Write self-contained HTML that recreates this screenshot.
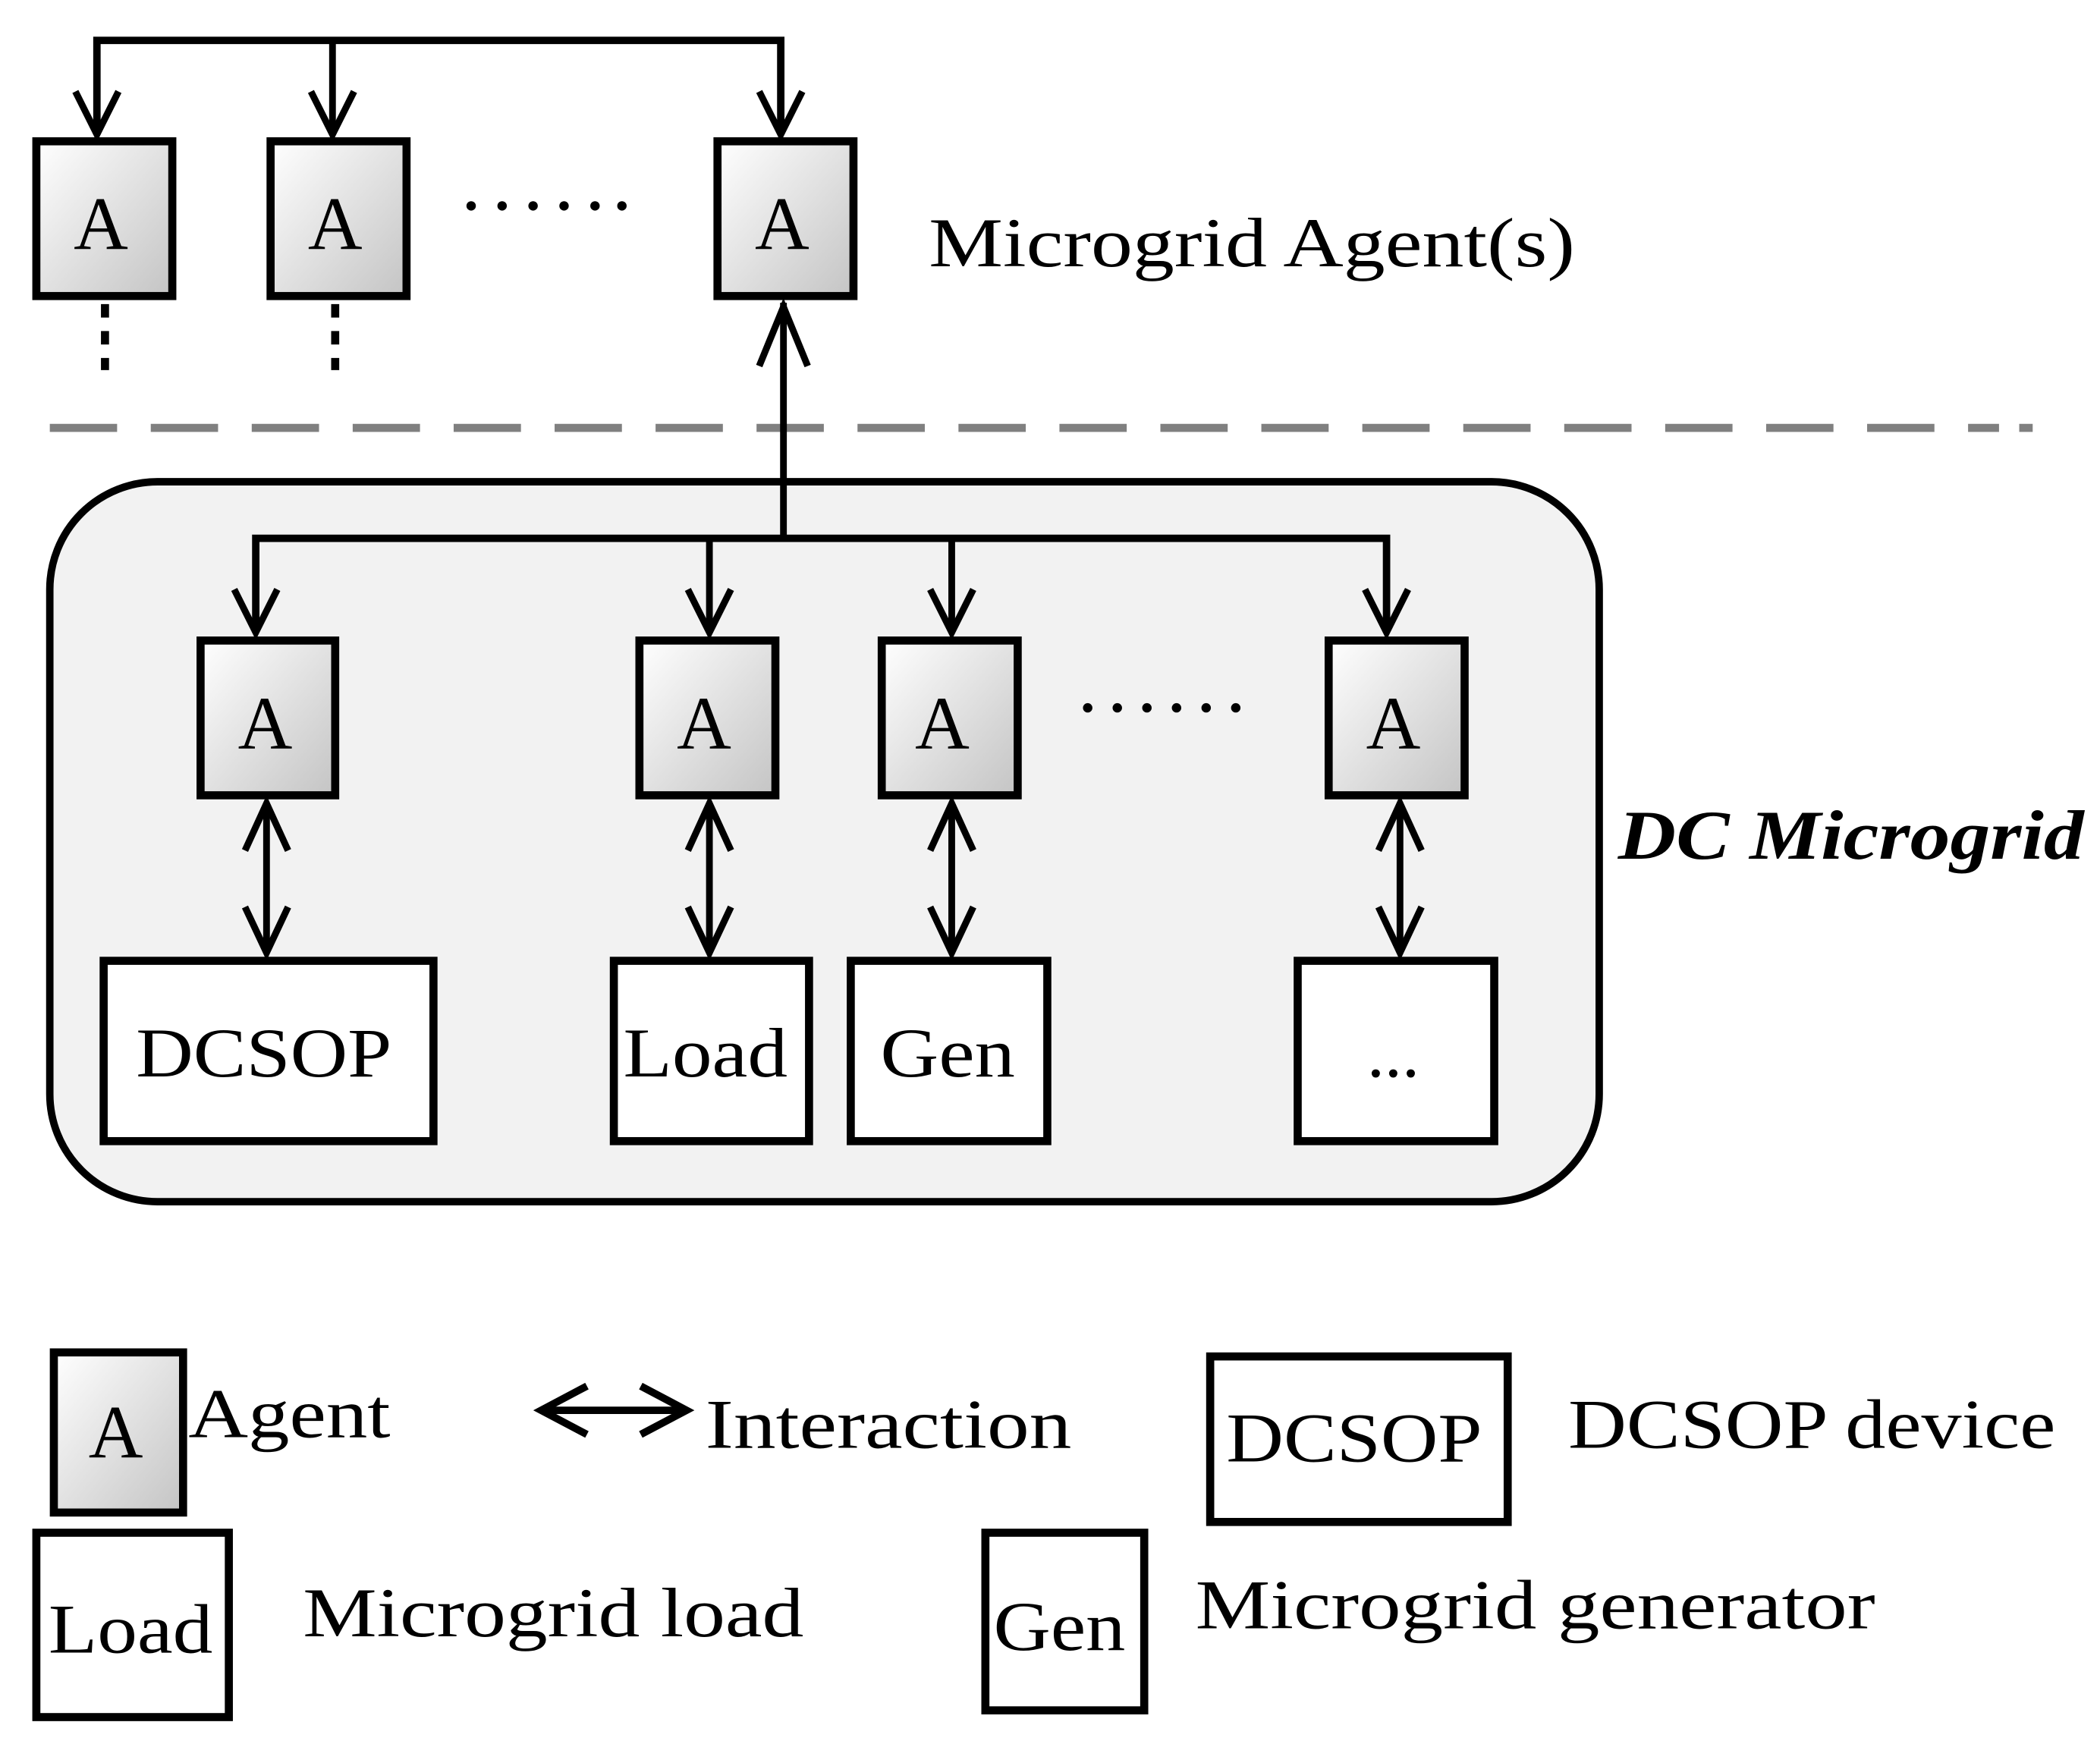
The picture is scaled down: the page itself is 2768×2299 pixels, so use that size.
<!DOCTYPE html>
<html><head><meta charset="utf-8"><style>html,body{margin:0;padding:0;background:#fff}svg{display:block}</style></head><body>
<svg width="2768" height="2299" viewBox="0 0 1560 1296" preserveAspectRatio="none" xmlns="http://www.w3.org/2000/svg" font-family="'Liberation Serif', serif">
<defs>
<linearGradient id="g" x1="0" y1="0" x2="1" y2="1"><stop offset="0" stop-color="#ffffff"/><stop offset="1" stop-color="#c4c4c4"/></linearGradient>
</defs>
<g stroke="#000" fill="none" stroke-width="5">
<polyline points="72,100 72,30 580,30 580,100" stroke-width="5.5"/>
<line x1="247" y1="30" x2="247" y2="100"/>
<polyline points="56,68 72,100 88,68"/>
<polyline points="231,68 247,100 263,68"/>
<polyline points="564,68 580,100 596,68"/>
</g>
<rect x="37" y="358" width="1151" height="535" rx="80" fill="#f2f2f2" stroke="#000" stroke-width="5.5"/>
<line x1="37" y1="318" x2="1485" y2="318" stroke="#808080" stroke-width="6" stroke-dasharray="50,25"/>
<line x1="1500" y1="318" x2="1510" y2="318" stroke="#808080" stroke-width="6"/>
<g stroke="#000" fill="none" stroke-width="5">
<line x1="582" y1="225" x2="582" y2="400"/>
<polyline points="564,272 582,228 600,272"/>
<polyline points="190,470 190,400 1030,400 1030,470" stroke-width="5.5"/>
<line x1="527" y1="400" x2="527" y2="470"/><line x1="707" y1="400" x2="707" y2="470"/>
<polyline points="174,438 190,470 206,438"/><polyline points="511,438 527,470 543,438"/>
<polyline points="691,438 707,470 723,438"/><polyline points="1014,438 1030,470 1046,438"/>
<line x1="198" y1="597" x2="198" y2="708"/><polyline points="182,632 198,597 214,632"/><polyline points="182,674 198,708 214,674"/>
<line x1="527" y1="597" x2="527" y2="708"/><polyline points="511,632 527,597 543,632"/><polyline points="511,674 527,708 543,674"/>
<line x1="707" y1="597" x2="707" y2="708"/><polyline points="691,632 707,597 723,632"/><polyline points="691,674 707,708 723,674"/>
<line x1="1040" y1="597" x2="1040" y2="708"/><polyline points="1024,632 1040,597 1056,632"/><polyline points="1024,674 1040,708 1056,674"/>
<line x1="78" y1="226" x2="78" y2="275" stroke-dasharray="10,10" stroke-width="6"/>
<line x1="249" y1="226" x2="249" y2="275" stroke-dasharray="10,10" stroke-width="6"/>
<line x1="404" y1="1048" x2="508" y2="1048" stroke-width="5.5"/>
<polyline points="436,1030 402,1048 436,1066" stroke-width="5.5"/><polyline points="476,1030 510,1048 476,1066" stroke-width="5.5"/>
</g>
<g fill="#000">
<circle cx="350" cy="153" r="3.5"/><circle cx="373" cy="153" r="3.5"/><circle cx="396" cy="153" r="3.5"/><circle cx="419" cy="153" r="3.5"/><circle cx="442" cy="153" r="3.5"/><circle cx="462" cy="153" r="3.5"/>
<circle cx="808" cy="526" r="3.5"/><circle cx="830" cy="526" r="3.5"/><circle cx="852" cy="526" r="3.5"/><circle cx="874" cy="526" r="3.5"/><circle cx="896" cy="526" r="3.5"/><circle cx="918" cy="526" r="3.5"/>
</g>
<g fill="url(#g)" stroke="#000" stroke-width="6">
<rect x="27" y="105" width="101" height="115"/>
<rect x="201" y="105" width="101" height="115"/>
<rect x="533" y="105" width="101" height="115"/>
<rect x="149" y="476" width="100" height="115"/>
<rect x="475" y="476" width="101" height="115"/>
<rect x="655" y="476" width="101" height="115"/>
<rect x="987" y="476" width="101" height="115"/>
<rect x="40" y="1005" width="96" height="119"/>
</g>
<g fill="#fff" stroke="#000" stroke-width="6">
<rect x="77" y="714" width="245" height="134"/>
<rect x="456" y="714" width="145" height="134"/>
<rect x="632" y="714" width="146" height="134"/>
<rect x="964" y="714" width="146" height="134"/>
<rect x="899" y="1008" width="221" height="123"/>
<rect x="27" y="1139" width="143" height="137"/>
<rect x="732" y="1139" width="118" height="132"/>
</g>
<g font-size="56" fill="#000" text-anchor="middle">
<text x="75" y="185">A</text><text x="249" y="185">A</text><text x="581" y="185">A</text>
<text x="197" y="556">A</text><text x="523" y="556">A</text><text x="700" y="556">A</text><text x="1035" y="556">A</text>
<text x="86" y="1083">A</text>
</g>
<g font-size="52" fill="#000" text-anchor="middle">
<text x="196" y="800" textLength="190" lengthAdjust="spacingAndGlyphs">DCSOP</text>
<text x="524" y="800" textLength="122" lengthAdjust="spacingAndGlyphs">Load</text>
<text x="704" y="800" textLength="100" lengthAdjust="spacingAndGlyphs">Gen</text>
<text x="1035" y="800">...</text>
<text x="1006" y="1086" textLength="190" lengthAdjust="spacingAndGlyphs">DCSOP</text>
<text x="97" y="1228" textLength="122" lengthAdjust="spacingAndGlyphs">Load</text>
<text x="787" y="1226" textLength="98" lengthAdjust="spacingAndGlyphs">Gen</text>
</g>
<g font-size="52" fill="#000">
<text x="690" y="198" textLength="480" lengthAdjust="spacingAndGlyphs">Microgrid Agent(s)</text>
<text x="1202" y="638" font-style="italic" font-weight="bold" textLength="346" lengthAdjust="spacingAndGlyphs">DC Microgrid</text>
<text x="140" y="1068" textLength="150" lengthAdjust="spacingAndGlyphs">Agent</text>
<text x="524" y="1076" textLength="272" lengthAdjust="spacingAndGlyphs">Interaction</text>
<text x="1165" y="1076" textLength="362" lengthAdjust="spacingAndGlyphs">DCSOP device</text>
<text x="225" y="1216" textLength="372" lengthAdjust="spacingAndGlyphs">Microgrid load</text>
<text x="888" y="1210" textLength="505" lengthAdjust="spacingAndGlyphs">Microgrid generator</text>
</g>
</svg>
</body></html>
